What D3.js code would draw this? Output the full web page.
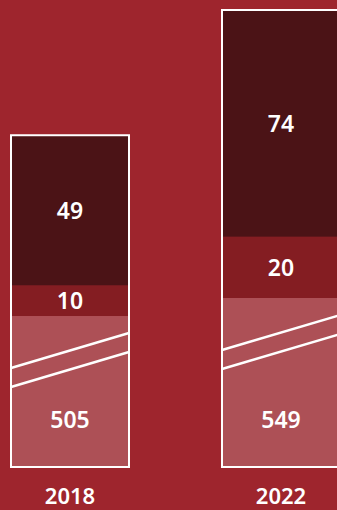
<!DOCTYPE html>
<html>
<head>
<meta charset="utf-8">
<script src="https://cdn.jsdelivr.net/npm/d3@7"></script>
<style>
  html, body { margin: 0; padding: 0; background: #9e252d; }
  svg { display: block; }
  text { font-family: "Noto Sans", "Open Sans", sans-serif; fill: #fff; }
</style>
</head>
<body>
<div class="content"></div>
<script>
// data
var years = ["2018", "2022"];
var baseVals = [505, 549];   // light segment (broken axis)
var midVals = [10, 20];
var topVals = [49, 74];

var width = 337, height = 510;
var bottom = 467;

var svg = d3.select('.content').append("svg").attr("width", width).attr("height", height);

var x = d3.scaleBand().domain(years).range([11, 340]).paddingInner(93 / 211);
// lower part of the bar uses a broken scale, upper parts a plain one
var yBase = d3.scaleLinear().domain([136, 549]).range([bottom, 298]);
var h = d3.scaleLinear().domain([0, 94]).range([0, 288]);

var colors = {base: "#ad5056", mid: "#841d22", top: "#4b1316"};

var rows = years.map(function(yr, i) {
	var baseTop = yBase(baseVals[i]);
	var midTop = baseTop - h(midVals[i]);
	var topTop = midTop - h(topVals[i]);
	return {year: yr, base: baseVals[i], mid: midVals[i], top: topVals[i],
		baseTop: baseTop, midTop: midTop, topTop: topTop};
});

var g = svg.selectAll("g.bar").data(rows).enter().append("g").attr("class", "bar");

g.append("rect").attr("x", function(d){return x(d.year);}).attr("width", x.bandwidth())
	.attr("y", function(d){return d.baseTop;}).attr("height", function(d){return bottom - d.baseTop;})
	.attr("fill", colors.base);
g.append("rect").attr("x", function(d){return x(d.year);}).attr("width", x.bandwidth())
	.attr("y", function(d){return d.midTop;}).attr("height", function(d){return d.baseTop - d.midTop;})
	.attr("fill", colors.mid);
g.append("rect").attr("x", function(d){return x(d.year);}).attr("width", x.bandwidth())
	.attr("y", function(d){return d.topTop;}).attr("height", function(d){return d.midTop - d.topTop;})
	.attr("fill", colors.top);

// break marks
[0, 19].forEach(function(off) {
	g.append("line")
		.attr("x1", function(d){return x(d.year);})
		.attr("y1", function(d){return d.baseTop + 52 + off;})
		.attr("x2", function(d){return x(d.year) + x.bandwidth();})
		.attr("y2", function(d){return d.baseTop + 17 + off;})
		.attr("stroke", "#fff").attr("stroke-width", 2.4);
});

// outline
g.append("rect").attr("x", function(d){return x(d.year);}).attr("width", x.bandwidth())
	.attr("y", function(d){return d.topTop;}).attr("height", function(d){return bottom - d.topTop;})
	.attr("fill", "none").attr("stroke", "#fff").attr("stroke-width", 2);

var cx = function(d){return x(d.year) + x.bandwidth() / 2;};

g.append("text").attr("x", cx).attr("y", function(d){return (d.topTop + d.midTop) / 2;})
	.attr("dy", "0.36em").attr("text-anchor", "middle")
	.style("font-size", "23px").style("font-weight", 600).text(function(d){return d.top;});
g.append("text").attr("x", cx).attr("y", function(d){return (d.midTop + d.baseTop) / 2;})
	.attr("dy", "0.36em").attr("text-anchor", "middle")
	.style("font-size", "23px").style("font-weight", 600).text(function(d){return d.mid;});
g.append("text").attr("x", cx).attr("y", bottom - 39)
	.attr("text-anchor", "middle")
	.style("font-size", "23px").style("font-weight", 600).text(function(d){return d.base;});

g.append("text").attr("x", cx).attr("y", 504)
	.attr("text-anchor", "middle")
	.style("font-size", "22px").style("font-weight", 600).text(function(d){return d.year;});
</script>
</body>
</html>
